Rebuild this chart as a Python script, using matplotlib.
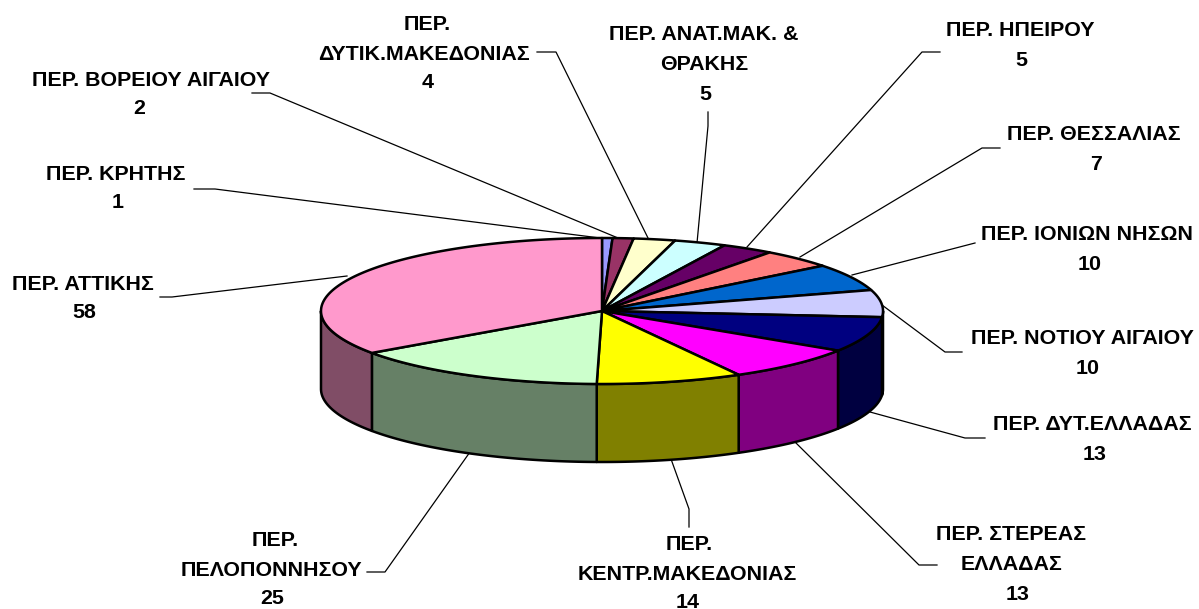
import numpy as np
import matplotlib
matplotlib.use('Agg')
import matplotlib.pyplot as plt
from matplotlib.colors import to_rgb

plt.rcParams['font.family'] = ['Liberation Sans', 'DejaVu Sans']

# clockwise from 12 o'clock
names = [['ΠΕΡ. ΚΡΗΤΗΣ'], ['ΠΕΡ. ΒΟΡΕΙΟΥ ΑΙΓΑΙΟΥ'], ['ΠΕΡ.', 'ΔΥΤΙΚ.ΜΑΚΕΔΟΝΙΑΣ'],
         ['ΠΕΡ. ΑΝΑΤ.ΜΑΚ. &', 'ΘΡΑΚΗΣ'], ['ΠΕΡ. ΗΠΕΙΡΟΥ'], ['ΠΕΡ. ΘΕΣΣΑΛΙΑΣ'],
         ['ΠΕΡ. ΙΟΝΙΩΝ ΝΗΣΩΝ'], ['ΠΕΡ. ΝΟΤΙΟΥ ΑΙΓΑΙΟΥ'], ['ΠΕΡ. ΔΥΤ.ΕΛΛΑΔΑΣ'],
         ['ΠΕΡ. ΣΤΕΡΕΑΣ', 'ΕΛΛΑΔΑΣ'], ['ΠΕΡ.', 'ΚΕΝΤΡ.ΜΑΚΕΔΟΝΙΑΣ'],
         ['ΠΕΡ.', 'ΠΕΛΟΠΟΝΝΗΣΟΥ'], ['ΠΕΡ. ΑΤΤΙΚΗΣ']]
values = [1, 2, 4, 5, 5, 7, 10, 10, 13, 13, 14, 25, 58]
colors = ['#9999FF', '#993366', '#FFFFCC', '#CCFFFF', '#660066', '#FF8080', '#0066CC',
          '#CCCCFF', '#000080', '#FF00FF', '#FFFF00', '#CCFFCC', '#FF99CC']

# label placement, pixels: x of each text line centre, y of each line
text_x = [[116, 118], [151, 139], [427, 424, 428], [704, 704, 705], [1020, 1021], [1094, 1096],
          [1087, 1090], [1082, 1088], [1092, 1095], [1011, 1012, 1018], [689, 687, 688],
          [275, 271, 272], [83, 84]]
text_y = [[175, 203], [80, 108], [25, 55, 83], [35, 65, 94], [31, 61], [135, 164],
          [234, 264], [338, 368], [424, 454], [535, 565, 595], [545, 574, 603],
          [540, 570, 599], [285, 313]]
leaders = [[(194, 189), (215, 189), (600, 238)],
           [(252, 93), (270, 93), (618, 238)],
           [(537, 52), (556, 52), (648, 238)],
           [(708, 112), (708, 126), (697, 243)],
           [(940, 52), (922, 52), (747, 247)],
           [(1000, 148), (982, 148), (800, 257)],
           [(975, 243), (852, 275)],
           [(962, 352), (945, 352), (882, 305)],
           [(985, 438), (965, 438), (870, 412)],
           [(937, 565), (919, 565), (795, 442)],
           [(689, 527), (689, 509), (671, 459)],
           [(367, 572), (385, 572), (470, 452)],
           [(160, 297), (172, 297), (347, 276)]]

cx, cy, rx, ry, depth = 602, 311, 281, 73, 78


def rim(t):
    # t in radians clockwise from the top
    return cx + rx * np.sin(t), cy - ry * np.cos(t)


fig = plt.figure(figsize=(11.99, 6.09), dpi=100)
fig.patch.set_facecolor('white')
ax = fig.add_axes([0, 0, 1, 1])
ax.set_xlim(0, 1199)
ax.set_ylim(609, 0)
ax.axis('off')

edges = np.cumsum([0] + values) / sum(values) * 2 * np.pi

# side wall, only the front half shows
for i in range(len(values)):
    a = max(edges[i], np.pi / 2)
    b = min(edges[i + 1], 3 * np.pi / 2)
    if b <= a:
        continue
    t = np.linspace(a, b, 80)
    x, y = rim(t)
    px = np.r_[x, x[::-1]]
    py = np.r_[y, y[::-1] + depth]
    side = tuple(c * 0.5 for c in to_rgb(colors[i]))
    ax.fill(px, py, facecolor=side, edgecolor='black', lw=1.8, joinstyle='round', zorder=2)

# top face
for i in range(len(values)):
    t = np.linspace(edges[i], edges[i + 1], 120)
    x, y = rim(t)
    ax.fill(np.r_[cx, x], np.r_[cy, y], facecolor=colors[i], edgecolor='black', lw=1.8,
            joinstyle='round', zorder=3)

for pts in leaders:
    ax.plot([p[0] for p in pts], [p[1] for p in pts], color='black', lw=0.9, zorder=1)

for i in range(len(values)):
    lines = names[i] + [str(values[i])]
    for s, x, y in zip(lines, text_x[i], text_y[i]):
        ax.text(x, y, s, ha='center', va='center', fontsize=15.4, fontweight='bold', color='black', zorder=5)

fig.savefig('out.png', dpi=100, facecolor='white')
